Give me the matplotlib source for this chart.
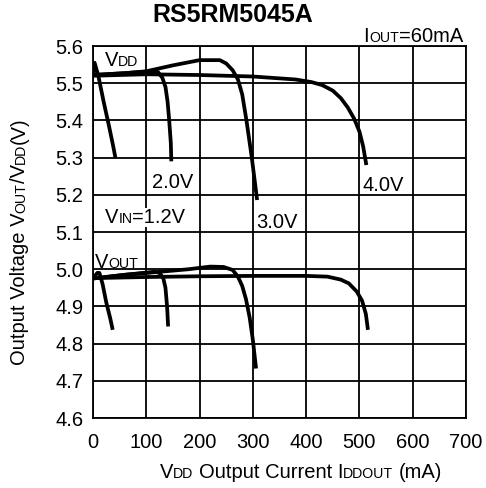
import matplotlib
matplotlib.use("Agg")
import matplotlib.pyplot as plt
from matplotlib.transforms import offset_copy

plt.rcParams['font.family'] = ['Liberation Sans', 'DejaVu Sans']

# ---------------- data ----------------
title = "RS5RM5045A"
x_ticks = [0, 100, 200, 300, 400, 500, 600, 700]
y_ticks = [4.6, 4.7, 4.8, 4.9, 5.0, 5.1, 5.2, 5.3, 5.4, 5.5, 5.6]

# VDD curves (mA, V)
vdd12_x = [0, 3, 10, 20, 30, 38, 42]
vdd12_y = [5.52, 5.555, 5.52, 5.45, 5.385, 5.33, 5.30]
vdd20_x = [0, 60, 110, 122, 130, 136, 140, 143, 146, 147]
vdd20_y = [5.522, 5.527, 5.532, 5.53, 5.515, 5.49, 5.45, 5.40, 5.34, 5.29]
vdd30_x = [0, 60, 100, 150, 200, 238, 250, 262, 272, 280, 288, 298, 308]
vdd30_y = [5.522, 5.527, 5.532, 5.548, 5.562, 5.562, 5.553, 5.535, 5.51, 5.47, 5.40, 5.30, 5.186]
vdd40_x = [0, 100, 200, 300, 380, 410, 430, 450, 465, 478, 490, 500, 507, 513]
vdd40_y = [5.52, 5.524, 5.522, 5.518, 5.51, 5.503, 5.495, 5.48, 5.46, 5.435, 5.405, 5.37, 5.33, 5.28]

# VOUT curves (mA, V)
vout12_x = [0, 8, 12, 18, 25, 32, 37]
vout12_y = [4.975, 4.99, 4.99, 4.96, 4.91, 4.87, 4.837]
vout20_x = [0, 60, 115, 125, 132, 136, 139, 141]
vout20_y = [4.975, 4.985, 4.993, 4.99, 4.975, 4.95, 4.90, 4.846]
vout30_x = [0, 60, 125, 180, 220, 245, 262, 272, 280, 287, 294, 300, 306]
vout30_y = [4.975, 4.985, 4.993, 5.0, 5.007, 5.006, 4.998, 4.98, 4.955, 4.92, 4.87, 4.81, 4.733]
vout40_x = [0, 100, 200, 300, 400, 440, 465, 480, 495, 505, 512, 516]
vout40_y = [4.976, 4.979, 4.981, 4.982, 4.982, 4.98, 4.972, 4.962, 4.94, 4.915, 4.88, 4.837]

# ---------------- figure ----------------
W, H = 486, 488
fig = plt.figure(figsize=(W / 100, H / 100), dpi=100)
ax = fig.add_axes([93 / W, 1 - 418 / H, (466 - 93) / W, (418 - 46) / H])

BIG = 14.5
SMALL = 10.2

for xs, ys in [(vdd12_x, vdd12_y), (vdd20_x, vdd20_y), (vdd30_x, vdd30_y), (vdd40_x, vdd40_y),
               (vout12_x, vout12_y), (vout20_x, vout20_y), (vout30_x, vout30_y), (vout40_x, vout40_y)]:
    ax.plot(xs, ys, color='black', lw=2.7, solid_capstyle='butt', solid_joinstyle='round', zorder=3)

ax.set_xlim(0, 700)
ax.set_ylim(4.6, 5.6)
ax.set_xticks(x_ticks)
ax.set_yticks(y_ticks)
ax.set_xticklabels([str(v) for v in x_ticks])
ax.set_yticklabels([f"{v:.1f}" for v in y_ticks])
ax.tick_params(length=0, labelsize=BIG)
ax.tick_params(axis='y', pad=7)
ax.tick_params(axis='x', pad=11)
ax.grid(True, color='black', lw=1.3)
ax.set_axisbelow(True)
for s in ax.spines.values():
    s.set_linewidth(1.3)

fig.canvas.draw()
renderer = fig.canvas.get_renderer()


def _w(s, fs, weight='normal'):
    t = fig.text(0, 0, s, fontsize=fs, fontweight=weight)
    w = t.get_window_extent(renderer).width
    t.remove()
    return w


def mixed(x, y, segs, transform, ha='left', rotation=0, bg=False, zorder=5):
    """Draw text made of (string, fontsize) pieces sharing one baseline."""
    pieces = []
    for s, fs in segs:
        lead = len(s) - len(s.lstrip(' '))
        sp = (_w('x x', fs) - _w('xx', fs)) * lead
        core = s.lstrip(' ')
        pieces.append((core, fs, sp, _w(core, fs)))
    total = sum(p[2] + p[3] for p in pieces)
    off = {'left': 0, 'center': -total / 2, 'right': -total}[ha]
    for core, fs, sp, w in pieces:
        off += sp
        if rotation == 90:
            tr = offset_copy(transform, fig=fig, x=0, y=off, units='dots')
        else:
            tr = offset_copy(transform, fig=fig, x=off, y=0, units='dots')
        kw = {}
        if bg:
            kw['bbox'] = dict(fc='white', ec='none', pad=0.0)
        fig.text(x, y, core, fontsize=fs, transform=tr, ha='left', va='baseline',
                 rotation=rotation, rotation_mode='anchor', zorder=zorder, **kw)
        off += w


def px(x, y):
    return x / W, 1 - y / H

# title
fig.text(*px(233, 22), title, fontsize=18, fontweight='bold', ha='center', va='baseline')

# Iout label
mixed(*px(463, 42), [("I", BIG), ("OUT", SMALL), ("=60mA", BIG)], fig.transFigure, ha='right')

# axis labels
mixed(*px(301, 478), [("V", BIG), ("DD", SMALL), (" Output Current I", BIG), ("DDOUT", SMALL), (" (mA)", BIG)],
      fig.transFigure, ha='center')
mixed(*px(25, 241), [("Output Voltage V", BIG), ("OUT", SMALL), ("/V", BIG), ("DD", SMALL), ("(V)", BIG)],
      fig.transFigure, ha='center', rotation=90)

# in-plot labels (data coords)
mixed(22, 5.546, [("V", BIG), ("DD", SMALL)], ax.transData)
mixed(3, 5.003, [("V", BIG), ("OUT", SMALL)], ax.transData)
mixed(22.5, 5.124, [("V", BIG), ("IN", SMALL), ("=1.2V", BIG)], ax.transData, bg=True)
mixed(110, 5.2175, [("2.0V", BIG)], ax.transData)
mixed(307, 5.110, [("3.0V", BIG)], ax.transData)
mixed(506.5, 5.211, [("4.0V", BIG)], ax.transData)

fig.savefig("out.png", dpi=100)
